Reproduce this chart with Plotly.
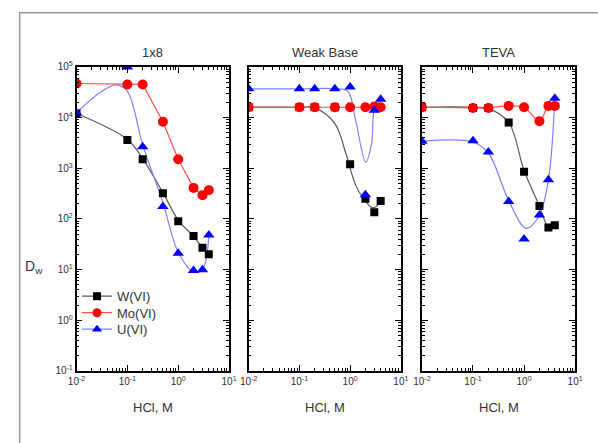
import plotly.graph_objects as go

# HCl concentrations (M) at which distribution ratios were measured
hcl = [0.01, 0.1, 0.2, 0.5, 1, 2, 3, 4]

# Measured Dw values per resin
w_1x8 = [12000, 3600, 1500, 320, 90, 46, 27, 20]
mo_1x8 = [47000, 45000, 45000, 8300, 1500, 410, 295, 370]
u_1x8 = [12500, 100000, 2650, 175, 21, 9.6, 10, 48]

w_wb = [16000, 16000, 16000, 16000, 1200, 250, 135, 225]
mo_wb = [16000, 16000, 16000, 16000, 16000, 16000, 16500, 16000]
u_wb = [37000, 37000, 37000, 37000, 40000, 300, 14000, 23000]

w_teva = [16000, 15500, 15500, 8000, 850, 180, 68, 75]
mo_teva = [16000, 15500, 15500, 17000, 16000, 8500, 17000, 17000]
u_teva = [3400, 3500, 2100, 220, 40, 120, 590, 24000]

# Fitted trend curves (control points for smooth lines)
fit_x_w1 = [0.01, 0.1, 0.2, 0.5, 1, 2, 3, 4]
fit_y_w1 = [12000, 3700, 1550, 330, 95, 45, 27, 20]
fit_x_u1 = [0.01, 0.03, 0.06, 0.1, 0.2, 0.5, 1, 2, 3, 4]
fit_y_u1 = [12500, 32000, 44000, 33000, 2900, 210, 22, 9, 10, 48]

fit_x_wwb = [0.01, 0.1, 0.2, 0.5, 0.82, 1.28, 2, 2.87, 4]
fit_y_wwb = [16000, 16000, 15500, 7600, 2000, 470, 225, 165, 225]
fit_x_uwb = [0.01, 0.1, 0.5, 0.9, 1.28, 2.04, 2.66, 3, 4]
fit_y_uwb = [37000, 37000, 37000, 33000, 8900, 1320, 3150, 14000, 23000]

fit_x_wt = [0.01, 0.1, 0.2, 0.5, 1, 2, 3, 4]
fit_y_wt = [16000, 16000, 15000, 8000, 900, 180, 70, 75]
fit_x_ut = [0.01, 0.1, 0.2, 0.5, 1.1, 2, 3, 4]
fit_y_ut = [3400, 3300, 2000, 230, 65, 120, 590, 24000]

panel_titles = ["1x8", "Weak Base", "TEVA"]
decade_vals = [0.1, 1, 10, 100, 1000, 10000, 100000]
decade_text = ["10<sup>-1</sup>", "10<sup>0</sup>", "10<sup>1</sup>", "10<sup>2</sup>",
               "10<sup>3</sup>", "10<sup>4</sup>", "10<sup>5</sup>"]
x_vals = [0.01, 0.1, 1, 10]
x_text = ["10<sup>-2</sup>", "10<sup>-1</sup>", "10<sup>0</sup>", "10<sup>1</sup>"]

W = 598
H = 443


def px(x):
    """Pixel column -> paper fraction."""
    return x / W


def py(y):
    """Pixel row (from top) -> paper fraction."""
    return 1 - y / H


x_domains = [(px(69.5), px(226.5)), (px(246.7), px(403.3)), (px(425), px(582.7))]
y_domain = (py(375), py(61.7))

BLACK_LINE = "#5a5a5a"
RED_LINE = "#ff5050"
BLUE_LINE = "#8080ff"

fig = go.Figure()

panels = [
    (w_1x8, mo_1x8, u_1x8, fit_x_w1, fit_y_w1, None, None, fit_x_u1, fit_y_u1),
    (w_wb, mo_wb, u_wb, fit_x_wwb, fit_y_wwb, hcl, mo_wb, fit_x_uwb, fit_y_uwb),
    (w_teva, mo_teva, u_teva, fit_x_wt, fit_y_wt, hcl, mo_teva, fit_x_ut, fit_y_ut),
]

for i, (w, mo, u, fxw, fyw, fxm, fym, fxu, fyu) in enumerate(panels):
    xa = "x" if i == 0 else f"x{i + 1}"
    ya = "y" if i == 0 else f"y{i + 1}"
    common = dict(xaxis=xa, yaxis=ya, showlegend=False, hoverinfo="skip")
    # trend lines
    fig.add_trace(go.Scatter(x=fxw, y=fyw, mode="lines",
                             line=dict(color=BLACK_LINE, width=1.2, shape="spline"), **common))
    fig.add_trace(go.Scatter(x=fxu, y=fyu, mode="lines",
                             line=dict(color=BLUE_LINE, width=1.2, shape="spline"), **common))
    if fxm is None:
        fig.add_trace(go.Scatter(x=hcl, y=mo, mode="lines",
                                 line=dict(color=RED_LINE, width=1.2), **common))
    else:
        fig.add_trace(go.Scatter(x=fxm, y=fym, mode="lines",
                                 line=dict(color=RED_LINE, width=1.2, shape="spline"), **common))
    # measured points
    fig.add_trace(go.Scatter(x=hcl, y=w, mode="markers",
                             marker=dict(symbol="square", size=8, color="#000000"), **common))
    fig.add_trace(go.Scatter(x=hcl, y=mo, mode="markers",
                             marker=dict(symbol="circle", size=10, color="#ff0000"), **common))
    fig.add_trace(go.Scatter(x=hcl, y=u, mode="markers",
                             marker=dict(symbol="triangle-up", size=10, color="#0000ff"), **common))

# legend entries, one small legend box per species so the rows sit close together
legend_rows = [("W(VI)", "#000000", BLACK_LINE, "square", 8, "legend", 298),
               ("Mo(VI)", "#ff0000", RED_LINE, "circle", 9, "legend2", 315),
               ("U(VI)", "#0000ff", BLUE_LINE, "triangle-up", 9, "legend3", 332)]
legend_layout = {}
for name, col, lc, sym, sz, lg, ly in legend_rows:
    fig.add_trace(go.Scatter(x=[None], y=[None], mode="lines+markers", name=name,
                             legend=lg, line=dict(color=lc, width=1.2),
                             marker=dict(symbol=sym, size=sz, color=col)))
    legend_layout[lg] = dict(x=px(70), y=py(ly), xanchor="left", yanchor="middle",
                             bgcolor="rgba(0,0,0,0)", borderwidth=0,
                             font=dict(size=13, color="#333333"), itemwidth=30)

tick_font = dict(family="Liberation Sans, Arial, sans-serif", size=10, color="#333333")
minor_x = [m * 10 ** e for e in (-2, -1, 0) for m in range(2, 10)]
minor_y = [m * 10 ** e for e in (-1, 0, 1, 2, 3, 4) for m in range(2, 10)]

layout = dict(
    width=W, height=H, autosize=False,
    margin=dict(l=0, r=0, t=0, b=0),
    paper_bgcolor="white", plot_bgcolor="white",
    font=dict(family="Liberation Sans, Arial, sans-serif", color="#333333"),
    **legend_layout,
)

for i in range(3):
    xk = "xaxis" if i == 0 else f"xaxis{i + 1}"
    yk = "yaxis" if i == 0 else f"yaxis{i + 1}"
    ya_ref = "y" if i == 0 else f"y{i + 1}"
    xa_ref = "x" if i == 0 else f"x{i + 1}"
    layout[xk] = dict(
        type="log", range=[-2, 1], domain=list(x_domains[i]), anchor=ya_ref,
        showline=True, linecolor="#000000", linewidth=1.5, mirror="ticks",
        ticks="inside", ticklen=6, tickwidth=1.2, tickcolor="#000000",
        tickmode="array", tickvals=x_vals, ticktext=x_text, tickfont=tick_font,
        showgrid=False, zeroline=False,
        minor=dict(tickmode="array", tickvals=minor_x, ticks="inside",
                   ticklen=3, tickwidth=1, tickcolor="#000000", showgrid=False),
    )
    layout[yk] = dict(
        type="log", range=[-1, 5], domain=list(y_domain), anchor=xa_ref,
        showline=True, linecolor="#000000", linewidth=1.5, mirror="ticks",
        ticks="inside", ticklen=6, tickwidth=1.2, tickcolor="#000000",
        tickmode="array", tickvals=decade_vals, ticktext=decade_text, tickfont=tick_font,
        showticklabels=(i == 0),
        showgrid=False, zeroline=False,
        minor=dict(tickmode="array", tickvals=minor_y, ticks="inside",
                   ticklen=3, tickwidth=1, tickcolor="#000000", showgrid=False),
    )

fig.update_layout(**layout)

# panel titles and x-axis labels
for i, title in enumerate(panel_titles):
    cx = (x_domains[i][0] + x_domains[i][1]) / 2
    fig.add_annotation(x=cx, y=py(47), xref="paper", yref="paper", text=title,
                       xanchor="center", yanchor="middle",
                       showarrow=False, font=dict(size=13, color="#333333"))
    fig.add_annotation(x=cx, y=py(413), xref="paper", yref="paper", text="HCl, M",
                       xanchor="center", yanchor="middle",
                       showarrow=False, font=dict(size=13, color="#333333"))

fig.add_annotation(x=px(26), y=py(268), xref="paper", yref="paper",
                   text="D<sub>w</sub>", showarrow=False,
                   xanchor="center", yanchor="middle",
                   font=dict(size=14, color="#333333"))

# outer frame
fig.add_shape(type="rect", xref="paper", yref="paper",
              x0=px(11), x1=1.1, y0=-0.1, y1=py(6),
              line=dict(color="#9a9a9a", width=1.5), fillcolor="rgba(0,0,0,0)")

fig.write_html("out.html", config={"displayModeBar": False})
